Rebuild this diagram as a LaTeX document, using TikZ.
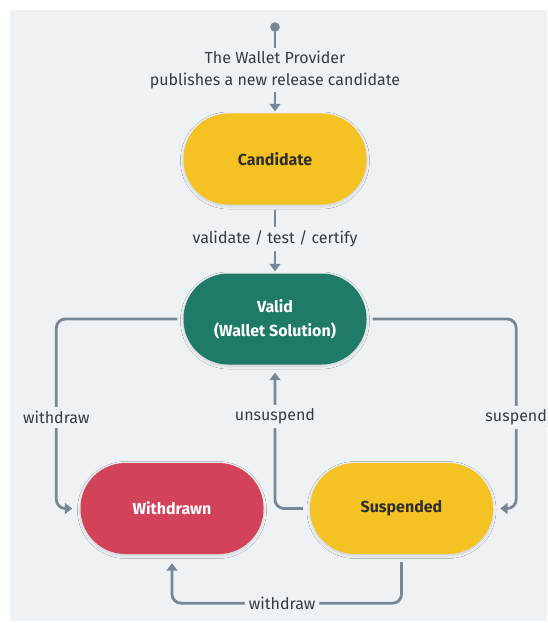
\documentclass[tikz,border=0pt]{standalone}
\usepackage{fontspec}
\setmainfont{Fira Sans}
\usetikzlibrary{arrows.meta,shadows.blur}
\definecolor{bgc}{HTML}{EFF2F5}
\definecolor{linec}{HTML}{7A8793}
\definecolor{yel}{HTML}{F5C223}
\definecolor{grn}{HTML}{1F7A66}
\definecolor{redc}{HTML}{D2435A}
\definecolor{darktxt}{HTML}{2E2E2E}
\definecolor{lbltxt}{HTML}{353C42}
\tikzset{
  state/.style={rectangle, rounded corners=45pt, minimum width=183pt, minimum height=91pt,
    font=\fontsize{16}{24}\selectfont\bfseries, align=center,
    blur shadow={shadow blur steps=6, shadow xshift=0pt, shadow yshift=-1.5pt, shadow opacity=15, shadow blur radius=3pt}},
  conn/.style={draw=linec, line width=2.8pt, rounded corners=9pt,
    -{Triangle[length=7.5pt,width=11pt]}},
  plain/.style={draw=linec, line width=2.8pt},
  lbl/.style={fill=bgc, text=lbltxt, font=\fontsize{16}{22}\selectfont, inner xsep=4pt, inner ysep=4pt, align=center},
}
\begin{document}
\begin{tikzpicture}[x=1pt,y=-1pt]
\useasboundingbox (0,0) rectangle (547,623);
\fill[bgc] (10,10) rectangle (547,621);

\node[state, fill=yel, text=darktxt] (cand) at (275,159) {Candidate};
\node[state, fill=grn, text=white] (valid) at (275,319) {Valid\\(Wallet Solution)};
\node[state, fill=redc, text=white] (withdr) at (172,508.5) {Withdrawn};
\node[state, fill=yel, text=darktxt] (susp) at (401.5,508.5) {Suspended};

\coordinate (start) at (275,27);
\fill[linec] (start) circle (4.8pt);
\node[lbl, fill=none, inner ysep=2pt] (pub) at (275,69.5) {The Wallet Provider\\publishes a new release candidate};
\draw[plain] (start) -- (pub.north);
\draw[conn, shorten <=1pt, shorten >=2pt] (pub.south) -- (cand.north);

\draw[conn, shorten <=5pt, shorten >=2pt] (cand.south) -- node[lbl] {validate / test / certify} (valid.north);

\coordinate (wl) at ([xshift=-24pt]withdr.west);
\draw[conn, shorten <=6pt, shorten >=8pt] (valid.west) -| node[lbl, pos=0.76] {withdraw} (wl) -- (withdr.west);

\coordinate (sr) at ([xshift=23pt]susp.east);
\draw[conn, shorten <=6pt, shorten >=7pt] (valid.east) -| node[lbl, pos=0.76] {suspend} (sr) -- (susp.east);

\draw[conn, shorten <=7pt, shorten >=8pt] (susp.west) -| node[lbl, pos=0.82] {unsuspend} (valid.south);

\coordinate (wb) at ([yshift=-49pt]withdr.south);
\draw[conn, shorten <=8pt, shorten >=9pt] (susp.south) |- node[lbl, pos=0.76, inner ysep=1pt] {withdraw} (wb) -- (withdr.south);
\end{tikzpicture}
\end{document}
